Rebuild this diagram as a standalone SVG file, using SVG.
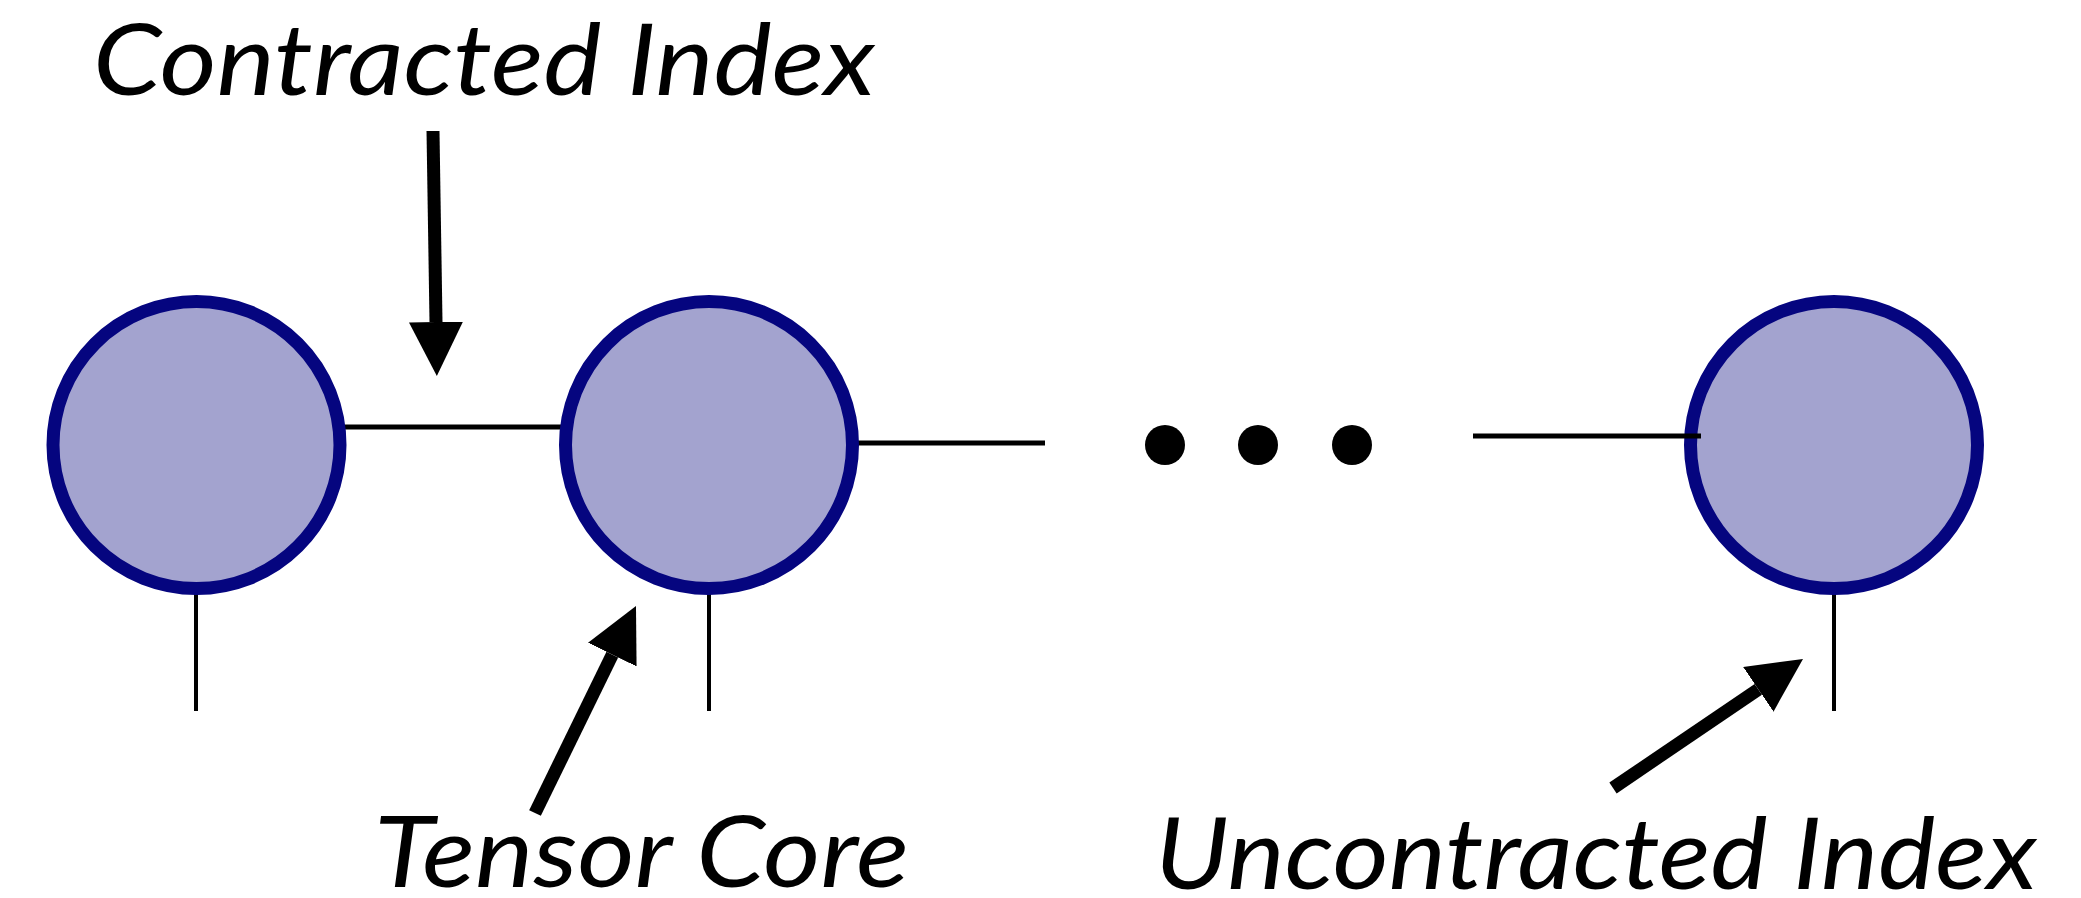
<svg xmlns="http://www.w3.org/2000/svg" width="2081" height="898" viewBox="0 0 2081 898">
  <style>
    .core { fill: #a3a3cf; stroke: #05057f; stroke-width: 13; }
    .bond { stroke: #000; stroke-width: 5; fill: none; }
    .leg { stroke: #000; stroke-width: 4; fill: none; }
    .pointer { stroke: #000; stroke-width: 13; fill: none; stroke-linecap: butt; marker-end: url(#head); }
    .label { font-family: Lato, "Open Sans", "Liberation Sans", sans-serif; font-style: italic; font-size: 99px; fill: #000; }
    .dot { fill: #000; }
  </style>
  <defs>
    <marker id="head" markerUnits="userSpaceOnUse" viewBox="0 0 54 54" refX="0" refY="27" markerWidth="54" markerHeight="54" orient="auto">
      <path d="M0,0 L54,27 L0,54 z" fill="#000"/>
    </marker>
  </defs>

  <!-- bonds and open legs -->
  <g id="connectors">
    <line class="bond" x1="345" y1="427" x2="562" y2="427"/>
    <line class="bond" x1="856" y1="443" x2="1045" y2="443"/>
    <line class="leg" x1="196" y1="589" x2="196" y2="711"/>
    <line class="leg" x1="709" y1="593" x2="709" y2="711"/>
    <line class="leg" x1="1834" y1="589" x2="1834" y2="711"/>
  </g>

  <g id="core-1"><circle class="core" cx="196.5" cy="445" r="143.5"/></g>
  <g id="core-2"><circle class="core" cx="709" cy="445" r="143.5"/></g>
  <g id="core-3"><circle class="core" cx="1834" cy="445" r="143.5"/></g>

  <!-- bond entering the last core, drawn over its rim -->
  <g id="connector-last">
    <line class="bond" x1="1473" y1="436" x2="1701" y2="436"/>
  </g>

  <g id="ellipsis">
    <circle class="dot" cx="1165" cy="445" r="20"/>
    <circle class="dot" cx="1258" cy="445" r="20"/>
    <circle class="dot" cx="1352" cy="445" r="20"/>
  </g>

  <!-- annotation pointers -->
  <g id="pointers">
    <line class="pointer" x1="433" y1="131" x2="436" y2="322"/>
    <line class="pointer" x1="535" y1="813" x2="612.3" y2="654.6"/>
    <line class="pointer" x1="1613" y1="788" x2="1758.3" y2="689.3"/>
  </g>

  <g id="label-contracted"><text class="label" x="93" y="95" textLength="782" lengthAdjust="spacingAndGlyphs">Contracted Index</text></g>
  <g id="label-core"><text class="label" x="374" y="887" textLength="535" lengthAdjust="spacingAndGlyphs">Tensor Core</text></g>
  <g id="label-uncontracted"><text class="label" x="1155" y="889" textLength="882" lengthAdjust="spacingAndGlyphs">Uncontracted Index</text></g>
</svg>
